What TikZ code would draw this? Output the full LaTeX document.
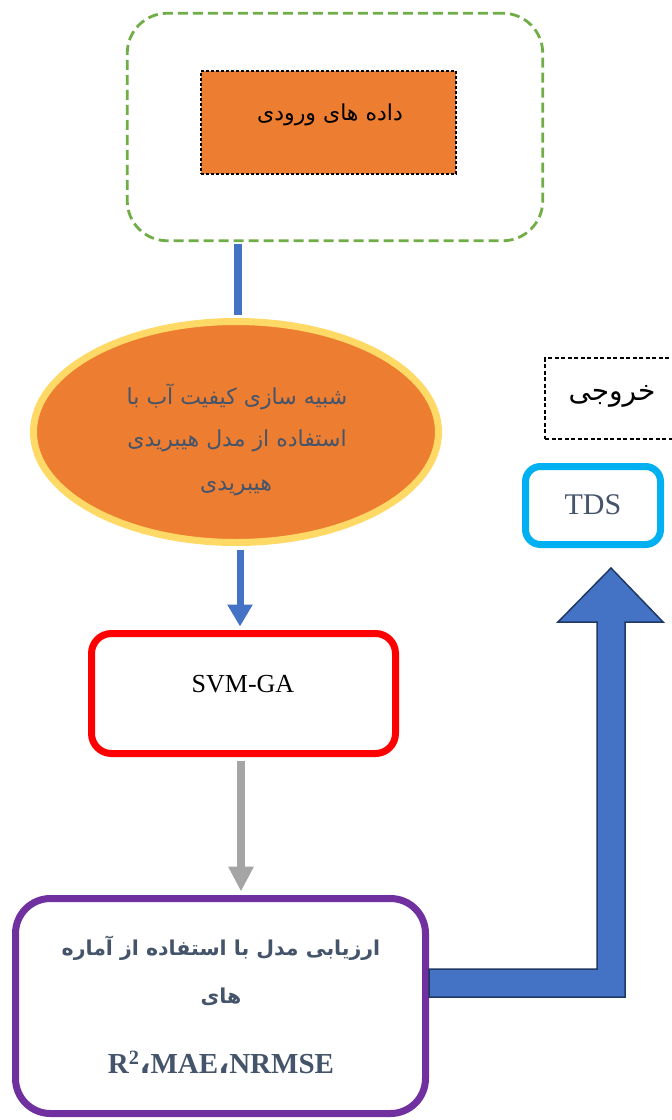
\documentclass[tikz,border=0pt]{standalone}
\usepackage{fontspec}
\setmainfont{Liberation Serif}
\newfontfamily\arabicfont[Script=Arabic]{DejaVu Sans}
\usetikzlibrary{shapes.geometric,arrows.meta}
\TeXXeTstate=1
\definecolor{cgreen}{HTML}{70AD47}
\definecolor{corange}{HTML}{ED7D31}
\definecolor{cyellow}{HTML}{FFD966}
\definecolor{cblue}{HTML}{4472C4}
\definecolor{cred}{HTML}{FF0000}
\definecolor{cgray}{HTML}{A5A5A5}
\definecolor{cpurple}{HTML}{7030A0}
\definecolor{ccyan}{HTML}{00B0F0}
\definecolor{cslate}{HTML}{44546A}
\definecolor{cnavy}{HTML}{1F3864}
\newcommand\artext[1]{{\arabicfont\beginR #1\endR}}
\begin{document}
\begin{tikzpicture}[x=1pt,y=-1pt,
  greenbox/.style={draw=cgreen,line width=2.8pt,dash pattern=on 10pt off 5pt,rounded corners=40pt,minimum width=415.5pt,minimum height=227.5pt,inner sep=0pt},
  orangebox/.style={draw=black,fill=corange,line width=1.2pt,dash pattern=on 3pt off 2pt,minimum width=255pt,minimum height=103pt,inner sep=0pt},
  simell/.style={ellipse,draw=cyellow,fill=corange,line width=7pt,minimum width=405pt,minimum height=221pt,inner sep=0pt},
  redbox/.style={draw=cred,fill=white,line width=7pt,rounded corners=20pt,minimum width=304pt,minimum height=120pt,inner sep=0pt},
  purplebox/.style={draw=cpurple,fill=white,line width=7pt,rounded corners=35pt,minimum width=410pt,minimum height=215pt,inner sep=0pt},
  cyanbox/.style={draw=ccyan,fill=white,line width=7pt,rounded corners=15pt,minimum width=135pt,minimum height=78pt,inner sep=0pt},
  outbox/.style={draw=black,line width=1.2pt,dash pattern=on 4pt off 2.5pt,minimum width=145pt,minimum height=81pt,inner sep=0pt},
  artxt/.style={inner sep=0pt,font=\fontsize{#1}{#1}\selectfont},
  bluecon/.style={draw=cblue,line width=8pt},
  bluearrow/.style={draw=cblue,line width=7pt,-{Triangle[width=24pt,length=22pt]}},
  grayarrow/.style={draw=cgray,line width=8pt,-{Triangle[width=24pt,length=25pt]}},
  blockarrow/.style={fill=cblue,draw=cnavy,line width=1.5pt,line join=miter}
]
\useasboundingbox (0,0) rectangle (672,1120);
\clip (0,0) rectangle (672,1120);
\coordinate (c1) at (238,0);
\coordinate (c2) at (240,0);
\coordinate (c3) at (241,0);

\node[greenbox] (input) at (335,127) {};
\node[orangebox] (data) at (328.5,122.5) {};
\node[artxt=22, text=black] (datat) at (330,115) {\artext{داده های ورودی}};

\node[simell] (sim) at (236,432) {};
\node[artxt=22, text=cslate] (sim1) at (237,397) {\artext{شبیه سازی کیفیت آب با}};
\node[artxt=22, text=cslate] (sim2) at (237,441) {\artext{استفاده از مدل هیبریدی}};
\node[artxt=22, text=cslate] (sim3) at (236,488) {\artext{هیبریدی}};

\node[redbox] (svm) at (243.5,693.5) {};
\node[inner sep=0pt,font=\fontsize{26}{30}\selectfont] (svmt) at (243,684) {SVM-GA};

\node[purplebox] (eval) at (220.5,1006) {};
\node[inner sep=0pt, text=cslate, font=\bfseries\fontsize{20.5}{21}\selectfont] (ev1) at (221,948) {\artext{ارزیابی مدل با استفاده از آماره}};
\node[inner sep=0pt, text=cslate, font=\bfseries\fontsize{20.5}{21}\selectfont] (ev2) at (221,997) {\artext{های}};
\node[inner sep=0pt, text=cslate, font=\bfseries\fontsize{29}{34}\selectfont] (ev3) at (221,1062) {R\textsuperscript{2}{\arabicfont ،}MAE{\arabicfont ،}NRMSE};

\node[outbox] (out) at (617.5,398.5) {};
\node[artxt=28, text=black] (outt) at (612,396) {\artext{خروجی}};

\node[cyanbox] (tds) at (593,505.5) {};
\node[inner sep=0pt, text=cslate, font=\fontsize{30}{34}\selectfont] (tdst) at (593,505) {TDS};

\draw[bluecon] ([yshift=-1.4pt]input.south -| c1) -- ([yshift=3.5pt]sim.north -| c1);
\draw[bluearrow] ([yshift=-3.5pt]sim.south -| c2) -- ([yshift=3.5pt]svm.north -| c2);
\draw[grayarrow] ([yshift=-3.5pt]svm.south -| c3) -- ([yshift=3.5pt]eval.north -| c3);
\draw[blockarrow] (eval.east) ++(0,-37) -- ++(168,0) -- ++(0,-347) -- ++(-39,0) -- ++(53,-54) -- ++(52,54) -- ++(-38,0) -- ++(0,375) -- ++(-196,0) -- cycle;
\end{tikzpicture}
\end{document}
